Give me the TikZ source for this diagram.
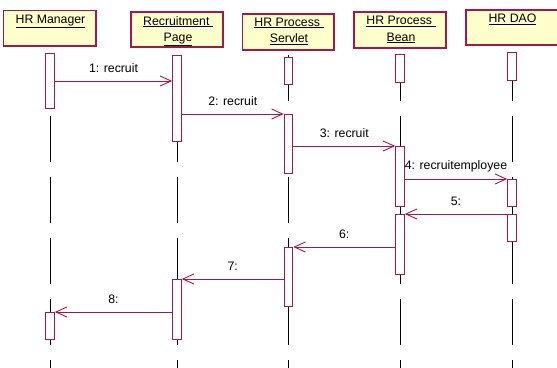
\documentclass[tikz,border=0pt]{standalone}
\usepackage{fontspec}
\setmainfont{Liberation Sans}
\usetikzlibrary{arrows.meta}
\definecolor{umlred}{HTML}{A3174B}
\definecolor{umlfill}{HTML}{FFFFCC}
\begin{document}
\begin{tikzpicture}[x=1pt,y=-1pt,
  headbox/.style={draw=umlred, fill=umlfill, line width=1.3pt},
  headtext/.style={inner sep=0pt, align=center, font=\fontsize{12.3}{16.5}\selectfont},
  lifeline/.style={draw=black, line width=0.8pt, dash pattern=on 46pt off 15pt},
  actbar/.style={draw=umlred, fill=white, line width=1pt, minimum width=8.6pt, inner sep=0pt, anchor=north},
  msg/.style={draw=umlred, line width=0.9pt, -{Straight Barb[length=11pt,width=10pt,line width=0.9pt]}},
  lbl/.style={inner sep=0pt, font=\fontsize{12.3}{14}\selectfont, yshift=13pt}]
\clip (0,0) rectangle (557,367);
\fill[white] (0,0) rectangle (557,367);

% lifelines
\foreach \n/\x in {l1/50,l2/177,l3/288.5,l4/400,l5/512}{
  \coordinate (\n top) at (\x,55);
  \coordinate (\n bot) at (\x,370);
  \draw[lifeline] (\n top) -- (\n bot);
}

% activation bars
\node[actbar, minimum height=55pt] (b1a) at (50,53) {};
\node[actbar, minimum height=27pt] (b1b) at (50,312) {};
\node[actbar, minimum height=86pt] (b2a) at (177,55) {};
\node[actbar, minimum height=60pt] (b2b) at (177,279) {};
\node[actbar, minimum height=27pt] (b3a) at (288.5,57) {};
\node[actbar, minimum height=59pt] (b3b) at (288.5,114) {};
\node[actbar, minimum height=59pt] (b3c) at (288.5,247) {};
\node[actbar, minimum height=28pt] (b4a) at (400,54) {};
\node[actbar, minimum height=60pt] (b4b) at (400,146) {};
\node[actbar, minimum height=60pt] (b4c) at (400,214) {};
\node[actbar, minimum height=28pt] (b5a) at (512,52) {};
\node[actbar, minimum height=27pt] (b5b) at (512,179) {};
\node[actbar, minimum height=27pt] (b5c) at (512,214) {};

% messages
\draw[msg] (b1a.east |- 0,81) -- (b2a.west |- 0,81) node[lbl,midway] {1: recruit};
\draw[msg] (b2a.east |- 0,114) -- (b3b.west |- 0,114) node[lbl,midway] {2: recruit};
\draw[msg] (b3b.east |- 0,146) -- (b4b.west |- 0,146) node[lbl,midway] {3: recruit};
\draw[msg] (b4b.east |- 0,179) -- (b5b.west |- 0,179) node[lbl,midway] {4: recruitemployee};
\draw[msg] (b5c.west |- 0,214) -- (b4c.east |- 0,214) node[lbl,midway] {5:};
\draw[msg] (b4c.west |- 0,247) -- (b3c.east |- 0,247) node[lbl,midway] {6:};
\draw[msg] (b3c.west |- 0,279) -- (b2b.east |- 0,279) node[lbl,midway] {7:};
\draw[msg] (b2b.west |- 0,312) -- (b1b.east |- 0,312) node[lbl,midway] {8:};

% heads
\path[headbox] (3.5,10.5) rectangle (96,46) coordinate (hm);
\node[headtext, anchor=north] (hmt) at (50.5,14.5) {\underline{HR Manager}};
\path[headbox] (131,12) rectangle (223,47) coordinate (rp);
\node[headtext, anchor=north] (rpt) at (178,16) {\underline{Recruitment\ }\\\underline{Page}};
\path[headbox] (242.5,14) rectangle (334,50) coordinate (sv);
\node[headtext, anchor=north] (svt) at (289,17.5) {\underline{HR Process\ }\\\underline{Servlet}};
\path[headbox] (354,12) rectangle (446,48) coordinate (bn);
\node[headtext, anchor=north] (bnt) at (401,16) {\underline{HR Process\ }\\\underline{Bean}};
\path[headbox] (466,10) rectangle (575,45) coordinate (dao);
\node[headtext, anchor=north] (daot) at (512.5,14) {\underline{HR DAO}};
\end{tikzpicture}
\end{document}
